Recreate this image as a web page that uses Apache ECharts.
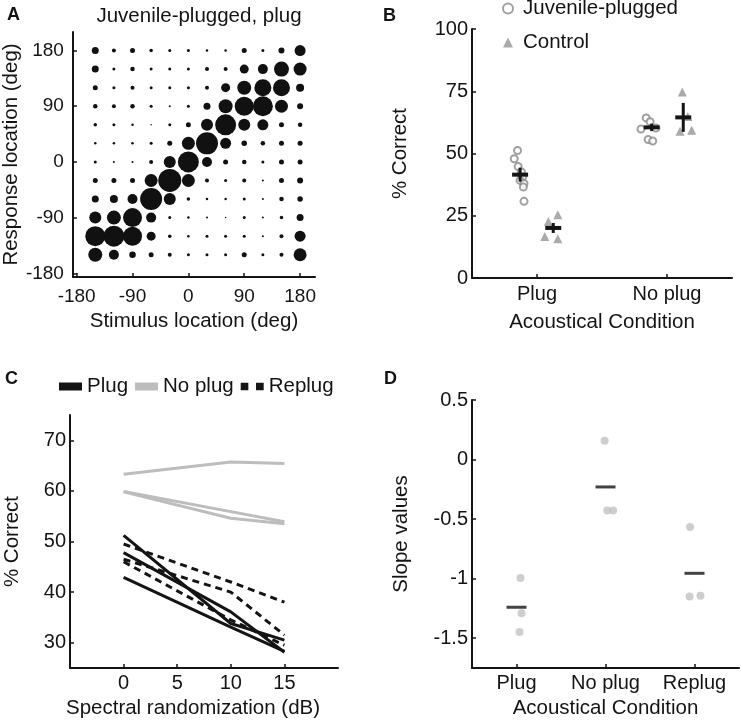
<!DOCTYPE html>
<html><head><meta charset="utf-8">
<script src="https://cdn.jsdelivr.net/npm/echarts@6/dist/echarts.min.js"></script>
<style>html,body{margin:0;padding:0;background:#fff}#c{width:741px;height:721px}</style>
</head><body><div id="c"></div>
<script>
// ---------- Panel A: stimulus/response matrix ----------
const stimulusLocations = [-150,-120,-90,-60,-30,0,30,60,90,120,150,180];
const responseLocations = [180,150,120,90,60,30,0,-30,-60,-90,-120,-150];
// relative response frequency (rows = response locations, cols = stimulus locations)
const responseFreq = [
  [7,4,5,3.5,3,3,2.5,2.5,5,3,6,11],
  [7,3,4.5,3,3,3,4,4,9,10,15,13],
  [5,3,4,3,3,3,4,9,14,17,17,8],
  [4.5,4,4.5,3,2,3,7,14,19,20,13,6],
  [3.5,3,2.5,1.5,3,5,12,21,12,11,5,4.5],
  [2.5,2.5,2.5,3,5,13,22,11,5.5,4.5,5,5],
  [3,2,2,4,12,21,10,5,4.5,3,5,5],
  [5,5,5,13,23,13,4,3,4,2,5,6],
  [7,8,10,22,12,3.5,2.5,2.5,3,2,4.5,5.5],
  [12,14,19,10,3,2.5,2,1.5,3,2,3.5,7],
  [20,21,19,9,3.5,2.5,3,3,3,2,4,11],
  [14,10,6.5,5,4,3,3,3,5,3,4,13]
];
const aTicks = [-180,-90,0,90,180];

// ---------- Panel B: % correct ----------
const bCategories = ['Plug','No plug'];
// [category position + jitter, % correct]
const juvenilePoints = [
  [-0.15,51.2],[-0.175,47.9],[-0.145,44.8],[-0.12,42.6],[-0.11,40.6],[-0.13,39.2],[-0.1,38],[-0.105,36.5],[-0.1,30.8],
  [0.84,64.3],[0.87,62.8],[0.8,59.8],[0.915,60.2],[0.855,55.6],[0.89,55.0]
];
const controlPoints = [
  [0.16,25.4],[0.087,22.7],[0.06,16.7],[0.16,15.8],
  [1.118,74.7],[1.16,64.9],[1.1,58.9],[1.19,59.3]
];
// [position, mean, error]
const juvenileMean = [[-0.13,41.5,2.8],[0.882,60.5,1.5]];
const controlMean = [[0.125,20.1,2.0],[1.125,64.5,5.8]];
const bTicks = [0,25,50,75,100];

// ---------- Panel C: % correct vs spectral randomization ----------
const cX = [0,10,15];
const plugLines = [[51.2,33.8,30.5],[47.8,36.1,28.1],[42.9,33.1,28.3]];
const noPlugLines = [[63.3,65.7,65.4],[59.9,55.9,53.9],[59.8,54.6,53.5]];
const replugLines = [[49.5,42.0,38.0],[46.5,40.0,31.5],[46.0,34.5,29.5]];
const cXTicks = [0,5,10,15];
const cYTicks = [30,40,50,60,70];

// ---------- Panel D: slope values ----------
const dCategories = ['Plug','No plug','Replug'];
// [category index + jitter, slope]
const slopePoints = [
  [0.045,-0.994],[0.056,-1.29],[0.034,-1.447],
  [0.99,0.157],[1.02,-0.427],[1.085,-0.427],
  [1.95,-0.567],[1.945,-1.149],[2.067,-1.143]
];
const slopeMeans = [[0,-1.24],[1,-0.23],[2,-0.955]];
const dYTicks = [-1.5,-1,-0.5,0,0.5];

// ---------- build option ----------
const FONT = 'Liberation Sans, Arial, Helvetica, sans-serif';
const INK = '#141414';
const TICK_FS = 20, NAME_FS = 20.5;
function axisBase(extra) {
  return Object.assign({
    axisLine: {onZero:false, lineStyle:{color:INK, width:2}},
    splitLine: {show:false},
    nameLocation: 'middle',
    nameTextStyle: {fontSize:NAME_FS, color:INK, fontFamily:FONT}
  }, extra);
}
function tk(vals){ return {inside:true, length:4, lineStyle:{color:INK, width:1.5}, customValues:vals}; }
function lb(vals, margin, fs, fmt){
  const o = {fontSize:fs||TICK_FS, color:INK, fontFamily:FONT, margin, customValues:vals};
  if (fmt) o.formatter = fmt;
  return o;
}

const aData = [];
responseLocations.forEach((r, i) => stimulusLocations.forEach((s, j) => aData.push([s, r, responseFreq[i][j]])));

function crossRender(params, api) {
  const x = api.value(0), m = api.value(1), e = api.value(2);
  const c = api.coord([x, m]);
  const t = api.coord([x, m + e]);
  const b = api.coord([x, m - e]);
  return {type:'group', children:[
    {type:'line', shape:{x1:c[0]-8, y1:c[1], x2:c[0]+8, y2:c[1]}, style:{stroke:INK, lineWidth:4}},
    {type:'line', shape:{x1:c[0], y1:t[1], x2:c[0], y2:b[1]}, style:{stroke:INK, lineWidth:3}}
  ]};
}

const series = [];
series.push({type:'scatter', xAxisIndex:0, yAxisIndex:0, data:aData, symbol:'circle',
  symbolSize: v => v[2], itemStyle:{color:'#111', opacity:1}, silent:true});
series.push({name:'Juvenile-plugged', type:'scatter', xAxisIndex:1, yAxisIndex:1, data:juvenilePoints,
  symbol:'emptyCircle', symbolSize:7, itemStyle:{color:'#8a8a8a', borderColor:'#8a8a8a', borderWidth:2}});
series.push({name:'Control', type:'scatter', xAxisIndex:1, yAxisIndex:1, data:controlPoints,
  symbol:'triangle', symbolSize:9, itemStyle:{color:'#959595'}});
series.push({type:'custom', xAxisIndex:1, yAxisIndex:1, data:juvenileMean, renderItem:crossRender, encode:{x:0,y:1}, z:5});
series.push({type:'custom', xAxisIndex:1, yAxisIndex:1, data:controlMean, renderItem:crossRender, encode:{x:0,y:1}, z:5});

function lineSeries(name, vals, color, type) {
  return {name, type:'line', xAxisIndex:2, yAxisIndex:2, data:cX.map((x,i)=>[x, vals[i]]),
    showSymbol:false, symbol:'none', lineStyle:{color, width:3, type}, itemStyle:{color}};
}
noPlugLines.forEach(v => series.push(lineSeries('No plug', v, '#bdbdbd', 'solid')));
replugLines.forEach(v => series.push(lineSeries('Replug', v, INK, [7,5])));
plugLines.forEach(v => series.push(lineSeries('Plug', v, INK, 'solid')));

series.push({type:'scatter', xAxisIndex:3, yAxisIndex:3, data:slopePoints, symbol:'circle', symbolSize:8, itemStyle:{color:'#c2c2c2'}});
series.push({type:'scatter', xAxisIndex:3, yAxisIndex:3, data:slopeMeans, symbol:'rect', symbolSize:[20,3], itemStyle:{color:INK}, z:5});

const letter = {fontSize:18, fontWeight:'bold', color:INK, fontFamily:FONT};
const option = {
  backgroundColor:'#fff',
  animation:false,
  textStyle:{fontFamily:FONT},
  title:[
    {text:'A', left:2, top:1, textStyle:letter},
    {text:'Juvenile-plugged, plug', left:194, top:1, textAlign:'center', textStyle:{fontSize:NAME_FS, fontWeight:'normal', color:INK, fontFamily:FONT}},
    {text:'B', left:378, top:2, textStyle:letter},
    {text:'C', left:0, top:365, textStyle:letter},
    {text:'D', left:379, top:365, textStyle:letter}
  ],
  legend:[
    {data:['Juvenile-plugged','Control'], orient:'vertical', left:497, top:-7, itemWidth:10, itemHeight:10, itemGap:13,
      textStyle:{fontSize:NAME_FS, color:INK, fontFamily:FONT, padding:[0,0,0,5]}},
    {data:[{name:'Plug', icon:'rect'},{name:'No plug', icon:'rect'},{name:'Replug', icon:'path://M0,0H8V8H0Z M16,0H24V8H16Z'}],
      orient:'horizontal', left:54, top:371, itemWidth:23, itemHeight:8, itemGap:7,
      textStyle:{fontSize:NAME_FS, color:INK, fontFamily:FONT}}
  ],
  grid:[
    {left:72, top:32, width:243, height:245},
    {left:472, top:29, width:260, height:249},
    {left:70, top:415, width:268, height:253},
    {left:472, top:400, width:267, height:268}
  ],
  xAxis:[
    axisBase({gridIndex:0, type:'value', min:-186, max:204, name:'Stimulus location (deg)', nameGap:34,
      axisTick:tk(aTicks), axisLabel:lb(aTicks, 10, 19)}),
    axisBase({gridIndex:1, type:'value', min:-0.5, max:1.5, name:'Acoustical Condition', nameGap:34,
      axisTick:tk([0,1]), axisLabel:lb([0,1], 6, TICK_FS, v=>bCategories[Math.round(v)])}),
    axisBase({gridIndex:2, type:'value', min:-5, max:20, name:'Spectral randomization (dB)', nameGap:30,
      nameTextStyle:{fontSize:NAME_FS, color:INK, fontFamily:FONT, padding:[0,22,0,0]},
      axisTick:tk(cXTicks), axisLabel:lb(cXTicks, 5)}),
    axisBase({gridIndex:3, type:'value', min:-0.5, max:2.5, name:'Acoustical Condition', nameGap:30,
      axisTick:tk([0,1,2]), axisLabel:lb([0,1,2], 5, TICK_FS, v=>dCategories[Math.round(v)])})
  ],
  yAxis:[
    axisBase({gridIndex:0, type:'value', min:-186, max:210, name:'Response location (deg)', nameGap:47,
      axisTick:tk(aTicks), axisLabel:lb(aTicks, 9, 19)}),
    axisBase({gridIndex:1, type:'value', min:0, max:100, interval:25, name:'% Correct', nameGap:61,
      axisTick:tk(bTicks), axisLabel:lb(bTicks, 4)}),
    axisBase({gridIndex:2, type:'value', min:25, max:75, name:'% Correct', nameGap:47,
      axisTick:tk(cYTicks), axisLabel:lb(cYTicks, 4)}),
    axisBase({gridIndex:3, type:'value', min:-1.75, max:0.5, name:'Slope values', nameGap:60,
      axisTick:tk(dYTicks), axisLabel:lb(dYTicks, 4)})
  ],
  series
};
const chart = echarts.init(document.getElementById('c'), null, {renderer:'canvas'});
chart.setOption(option);
</script></body></html>
